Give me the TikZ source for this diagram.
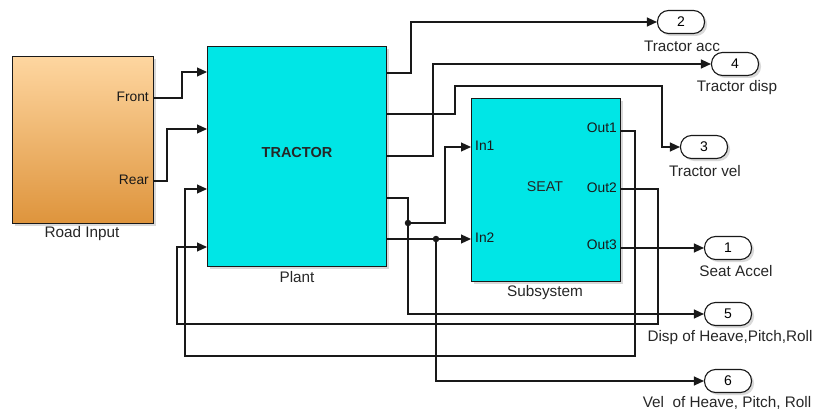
\documentclass[tikz,border=0pt]{standalone}
\usepackage{fontspec}
\setmainfont{Liberation Sans}
\usetikzlibrary{arrows.meta,shadows,calc}
\definecolor{cyanblk}{RGB}{0,230,230}
\definecolor{roadtop}{RGB}{254,214,160}
\definecolor{roadbot}{RGB}{222,148,60}
\definecolor{wirec}{RGB}{25,25,25}
\begin{document}
\begin{tikzpicture}[x=1pt,y=-1pt,
  shad/.style={drop shadow={shadow xshift=2.5pt,shadow yshift=-2.5pt,opacity=0.3}},
  blk/.style={draw=wirec, line width=1.2pt, inner sep=0pt, anchor=north west, shad},
  outport/.style={draw=wirec, line width=1.1pt, rounded corners=11pt, fill=white,
    minimum width=47pt, minimum height=23pt, inner sep=0pt,
    font=\fontsize{14}{16}\selectfont, shad},
  wire/.style={draw=wirec, line width=1.2pt},
  arr/.style={wire, -{Triangle[length=10pt,width=9pt]}},
  lbl/.style={font=\fontsize{15.3}{17}\selectfont, text=black!85, inner sep=0pt},
  port/.style={font=\fontsize{13.8}{15}\selectfont, text=black!90, inner sep=0pt},
  jdot/.style={circle, fill=wirec, inner sep=0pt, minimum size=6.5pt}
]
\useasboundingbox (0,0) rectangle (814,412);

% blocks
\node[blk, top color=roadtop, bottom color=roadbot, minimum width=141pt, minimum height=167pt] (road) at (12,56) {};
\node[blk, fill=cyanblk, minimum width=179pt, minimum height=220pt] (plant) at (207,46) {};
\node[blk, fill=cyanblk, minimum width=149pt, minimum height=183pt] (sub) at (471,98) {};

% block texts
\node[lbl] (roadlbl) at (82,234) {Road Input};
\node[lbl] (plantlbl) at (297,277) {Plant};
\node[lbl] (sublbl) at (545,293) {Subsystem};
\node[lbl, font=\bfseries\fontsize{14.5}{16}\selectfont] (tractor) at (297,153) {TRACTOR};
\node[lbl, font=\fontsize{14.2}{16}\selectfont] (seat) at (545,187) {SEAT};

% port labels
\node[port, anchor=east] (front) at (149,97) {Front};
\node[port, anchor=east] (rear) at (149,180) {Rear};
\node[port, anchor=west] (in1) at (475,146) {In1};
\node[port, anchor=west] (in2) at (475,238) {In2};
\node[port, anchor=east] (out1) at (617,128) {Out1};
\node[port, anchor=east] (out2) at (617,188) {Out2};
\node[port, anchor=east] (out3) at (617,245) {Out3};

% port coordinates
\coordinate (rf) at (153,98);
\coordinate (rr) at (153,181);
\coordinate (p1) at (207,72);
\coordinate (p2) at (207,129);
\coordinate (p3) at (207,189);
\coordinate (p4) at (207,247);
\coordinate (q1) at (386,73);
\coordinate (q2) at (386,114);
\coordinate (q3) at (386,156);
\coordinate (q4) at (386,198);
\coordinate (q5) at (386,239);
\coordinate (s1) at (471,147);
\coordinate (s2) at (471,239);
\coordinate (o1) at (620,131);
\coordinate (o2) at (620,189);
\coordinate (o3) at (620,248);

% outports
\node[outport] (op2) at (681,22) {2};
\node[outport] (op4) at (735,64) {4};
\node[outport] (op3) at (704,147) {3};
\node[outport] (op1) at (728,248) {1};
\node[outport] (op5) at (728,314) {5};
\node[outport] (op6) at (728,381) {6};

\node[lbl] (l2) at (682,46) {Tractor acc};
\node[lbl] (l4) at (737,88) {Tractor disp};
\node[lbl] (l3) at (705,171) {Tractor vel};
\node[lbl] (l1) at (736,271) {Seat Accel};
\node[lbl] (l5) at (730,338) {Disp of Heave,Pitch,Roll};
\node[lbl] (l6) at (727,403) {Vel\ \ of Heave, Pitch, Roll};

% junctions
\node[jdot] (j1) at (408,223) {};
\node[jdot] (j2) at (436,239) {};

% wires
\draw[arr] (rf) -- ++(29,0) |- (p1);
\draw[arr] (rr) -- ++(14,0) |- (p2);
\draw[arr] (q1) -- ++(25,0) |- (op2.west);
\draw[arr] (q2) -- ++(69,0) |- (662,86) |- (op3.west);
\draw[arr] (q3) -- ++(47,0) |- (op4.west);
\draw[arr] (q4) -- ++(22,0) |- (op5.west);
\draw[arr] (j1.center) -- ++(37,0) |- (s1);
\draw[arr] (q5) -- (s2);
\draw[arr] (j2.center) |- (op6.west);
\draw[arr] (o1) -- ++(15,0) |- (185,356) |- (p3);
\draw[arr] (o2) -- ++(38,0) |- (177,324) |- (p4);
\draw[arr] (o3) -- (op1.west);
\end{tikzpicture}
\end{document}
